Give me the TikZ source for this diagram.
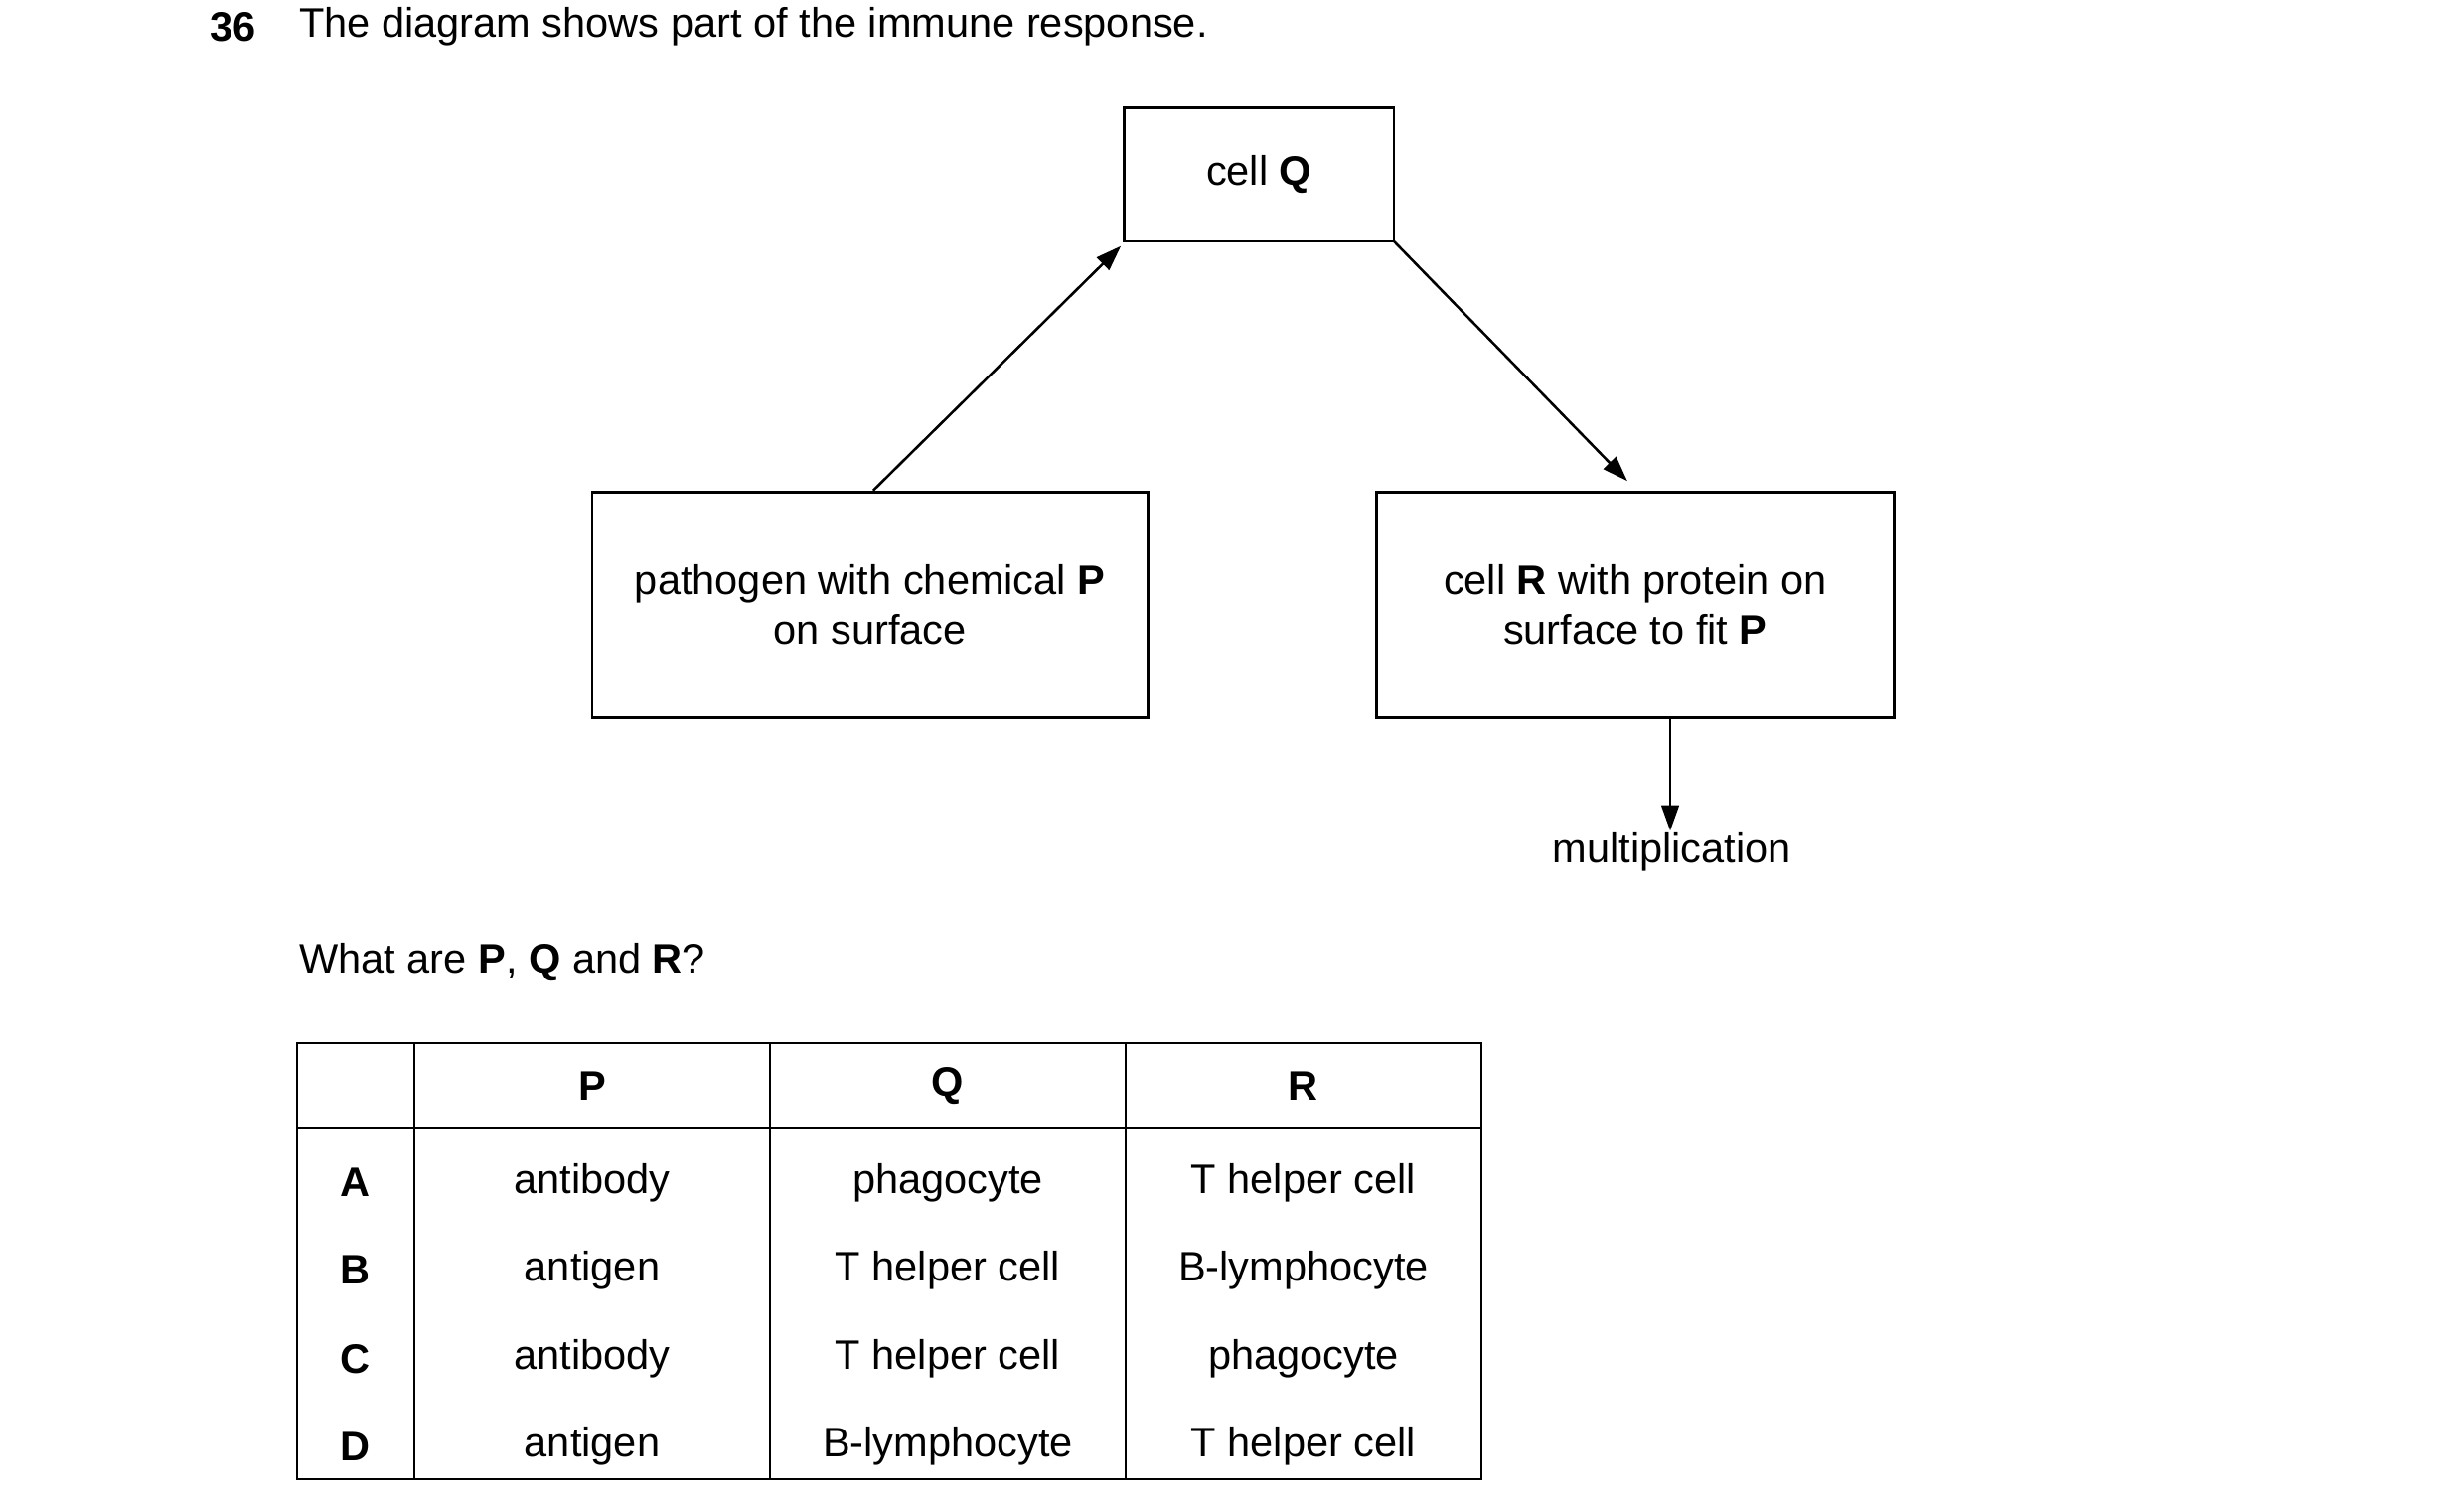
\documentclass[tikz,border=0pt]{standalone}
\usepackage{fontspec}
\setmainfont{Liberation Sans}
\usetikzlibrary{arrows.meta, positioning}

\begin{document}
\begin{tikzpicture}[
    x=1pt, y=-1pt,
    every node/.style={font=\fontsize{26}{31}\selectfont},
    box/.style={rectangle, draw, line width=1.6pt, align=center, inner sep=0pt},
    arrow/.style={-{Triangle[length=16pt, width=11pt]}, line width=1.6pt},
    cell/.style={anchor=center}
]
\useasboundingbox (0,0) rectangle (1552,948);

% Question
\node[anchor=west, font=\fontsize{26}{31}\selectfont\bfseries] (num) at (129,17) {36};
\node[anchor=west] (title) at (185,17) {The diagram shows part of the immune response.};

% Boxes
\node[box, minimum width=170pt, minimum height=84pt] (cellq) at (793,110) {cell \textbf{Q}};
\node[box, minimum width=350pt, minimum height=142pt] (pathogen) at (548,381) {pathogen with chemical \textbf{P}\\on surface};
\node[box, minimum width=326pt, minimum height=142pt] (cellr) at (1030,381) {cell \textbf{R} with protein on\\surface to fit \textbf{P}};
\node (mult) at (1053,537) {multiplication};

% Arrows
\coordinate (pstart) at (550,309);
\coordinate (qend) at (706,155);
\coordinate (qstart) at (878,152);
\coordinate (rend) at (1025,303);
\coordinate (rstart) at (1052,452);
\draw[arrow] (pstart) -- (qend);
\draw[arrow] (qstart) -- (rend);
\draw[arrow] (rstart) -- ([yshift=-2pt]mult.north -| rstart);

% Table
\node[anchor=west] (question) at (185,606) {What are \textbf{P}, \textbf{Q} and \textbf{R}?};
\draw[line width=1.2pt] (187,657) rectangle (933,932);
\draw[line width=1.2pt] (187,710) -- (933,710);
\foreach \x in {261,485,709}
    \draw[line width=1.2pt] (\x,657) -- (\x,932);

\node[cell, font=\fontsize{26}{31}\selectfont\bfseries] (hp) at (373,684) {P};
\node[cell, font=\fontsize{26}{31}\selectfont\bfseries] (hq) at (597,684) {Q};
\node[cell, font=\fontsize{26}{31}\selectfont\bfseries] (hr) at (821,684) {R};

\foreach \y/\l/\p/\q/\r in {745/A/antibody/phagocyte/T helper cell,
                            800/B/antigen/T helper cell/B-lymphocyte,
                            856/C/antibody/T helper cell/phagocyte,
                            911/D/antigen/B-lymphocyte/T helper cell} {
    \node[cell, font=\fontsize{26}{31}\selectfont\bfseries] (row\l) at (224,\y) {\l};
    \node[cell] (p\l) at (373,\y) {\p};
    \node[cell] (q\l) at (597,\y) {\q};
    \node[cell] (r\l) at (821,\y) {\r};
}
\end{tikzpicture}
\end{document}
